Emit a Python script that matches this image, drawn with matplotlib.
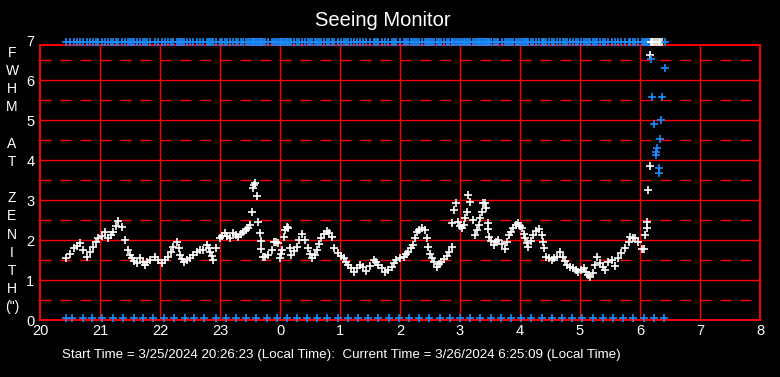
import numpy as np
import matplotlib
matplotlib.use("Agg")
import matplotlib.pyplot as plt

plt.rcParams['font.family'] = ['Liberation Sans', 'DejaVu Sans']
plt.rcParams['lines.scale_dashes'] = False

# seeing FWHM (white), hours after midnight of the start day
seeing_t = np.array([
    20.44, 20.50, 20.56, 20.62, 20.67, 20.72, 20.78, 20.83, 20.89, 20.93, 20.97, 21.03,
    21.08, 21.14, 21.18, 21.22, 21.27, 21.30, 21.36, 21.42, 21.46, 21.50, 21.53, 21.57,
    21.61, 21.67, 21.71, 21.75, 21.79, 21.83, 21.92, 21.97, 22.03, 22.08, 22.14, 22.18,
    22.22, 22.28, 22.31, 22.33, 22.37, 22.40, 22.45, 22.50, 22.55, 22.61, 22.67, 22.72,
    22.78, 22.81, 22.83, 22.86, 22.89, 22.94, 23.00, 23.04, 23.08, 23.12, 23.17, 23.22,
    23.26, 23.30, 23.35, 23.39, 23.43, 23.47, 23.50, 23.53, 23.55, 23.56, 23.58, 23.62,
    23.64, 23.66, 23.68, 23.69, 23.71, 23.75, 23.80, 23.86, 23.90, 23.94, 23.97, 24.00,
    24.02, 24.04, 24.06, 24.08, 24.12, 24.14, 24.16, 24.19, 24.23, 24.28, 24.32, 24.36,
    24.42, 24.47, 24.50, 24.54, 24.58, 24.61, 24.65, 24.69, 24.74, 24.78, 24.82, 24.86,
    24.90, 24.97, 25.02, 25.06, 25.10, 25.14, 25.19, 25.24, 25.29, 25.33, 25.38, 25.44,
    25.50, 25.56, 25.60, 25.64, 25.70, 25.75, 25.80, 25.86, 25.90, 25.94, 26.00, 26.06,
    26.10, 26.14, 26.18, 26.22, 26.25, 26.28, 26.32, 26.36, 26.42, 26.45, 26.47, 26.50,
    26.53, 26.57, 26.61, 26.65, 26.69, 26.74, 26.78, 26.82, 26.86, 26.87, 26.90, 26.93,
    26.97, 27.00, 27.03, 27.06, 27.09, 27.11, 27.14, 27.17, 27.21, 27.25, 27.28, 27.31,
    27.34, 27.36, 27.39, 27.42, 27.44, 27.46, 27.47, 27.49, 27.52, 27.56, 27.60, 27.64,
    27.70, 27.75, 27.78, 27.81, 27.85, 27.89, 27.93, 27.96, 28.00, 28.03, 28.06, 28.08,
    28.11, 28.14, 28.18, 28.22, 28.27, 28.31, 28.36, 28.39, 28.40, 28.44, 28.48, 28.53,
    28.57, 28.61, 28.67, 28.72, 28.75, 28.78, 28.83, 28.89, 28.93, 28.97, 29.02, 29.06,
    29.10, 29.14, 29.17, 29.22, 29.25, 29.29, 29.33, 29.38, 29.42, 29.47, 29.53, 29.58,
    29.64, 29.69, 29.75, 29.81, 29.84, 29.88, 29.92, 29.97, 30.03, 30.07, 30.09, 30.11,
    30.12, 30.14, 30.16, 30.17])
seeing_v = np.array([
    1.55, 1.65, 1.80, 1.85, 1.92, 1.75, 1.58, 1.70, 1.83, 1.95, 2.04, 2.10,
    2.21, 2.05, 2.12, 2.21, 2.35, 2.47, 2.33, 2.00, 1.75, 1.62, 1.54, 1.48,
    1.42, 1.54, 1.46, 1.38, 1.44, 1.50, 1.58, 1.50, 1.42, 1.50, 1.58, 1.70,
    1.83, 1.96, 1.80, 1.62, 1.52, 1.46, 1.50, 1.54, 1.62, 1.71, 1.74, 1.75,
    1.88, 1.80, 1.71, 1.60, 1.50, 1.79, 2.04, 2.10, 2.17, 2.10, 2.04, 2.17,
    2.12, 2.08, 2.15, 2.21, 2.25, 2.29, 2.38, 2.69, 3.30, 3.38, 3.42, 3.10,
    2.44, 2.17, 1.97, 1.77, 1.57, 1.58, 1.62, 1.75, 1.96, 1.95, 1.92, 1.54,
    1.65, 1.75, 2.07, 2.25, 2.32, 2.29, 1.79, 1.62, 1.72, 1.83, 2.00, 2.15,
    2.00, 1.79, 1.65, 1.54, 1.62, 1.75, 1.90, 2.04, 2.15, 2.23, 2.18, 2.07,
    1.79, 1.67, 1.60, 1.54, 1.46, 1.38, 1.30, 1.21, 1.30, 1.38, 1.32, 1.23,
    1.35, 1.50, 1.44, 1.38, 1.30, 1.21, 1.26, 1.33, 1.42, 1.50, 1.55, 1.58,
    1.64, 1.71, 1.80, 1.88, 2.05, 2.21, 2.26, 2.29, 2.25, 2.05, 1.83, 1.65,
    1.54, 1.44, 1.33, 1.40, 1.46, 1.53, 1.60, 1.70, 1.83, 2.42, 2.75, 2.92,
    2.46, 2.35, 2.29, 2.38, 2.55, 2.71, 3.12, 2.96, 2.50, 2.12, 2.25, 2.38,
    2.55, 2.71, 2.92, 2.92, 2.79, 2.42, 2.27, 2.07, 1.98, 1.88, 1.95, 2.00,
    1.90, 1.77, 1.95, 2.12, 2.20, 2.29, 2.38, 2.42, 2.35, 2.29, 2.15, 2.04,
    1.92, 1.83, 1.98, 2.12, 2.22, 2.27, 2.12, 1.96, 1.79, 1.58, 1.55, 1.50,
    1.54, 1.58, 1.71, 1.58, 1.47, 1.38, 1.33, 1.29, 1.25, 1.21, 1.25, 1.29,
    1.20, 1.12, 1.07, 1.17, 1.38, 1.57, 1.42, 1.33, 1.25, 1.46, 1.50, 1.35,
    1.54, 1.67, 1.79, 1.96, 2.08, 2.05, 2.04, 1.96, 1.77, 1.77, 2.12, 2.30,
    2.45, 3.25, 3.85, 6.62])

# white points pinned at the top of the scale at the end of the run
seeing_top_t = [30.18, 30.20, 30.22, 30.25, 30.28, 30.31, 30.34, 30.36]

# second (blue) channel: off scale most of the night, then a few readings
blue_top_t = seeing_t[seeing_t < 30.17]
blue_end_t = [30.19, 30.20, 30.24, 30.26, 30.27, 30.29, 30.31, 30.32, 30.34, 30.35, 30.37, 30.41]
blue_end_v = [6.52, 5.57, 4.89, 4.12, 4.20, 4.29, 3.80, 3.67, 4.52, 5.00, 5.57, 6.29]
blue_end_top_t = [30.42]

# blue ticks along the bottom
blue_low_t = [20.43, 20.54, 20.71, 20.87, 21.04, 21.22, 21.39, 21.56, 21.72, 21.89,
              22.07, 22.24, 22.41, 22.57, 22.74, 22.93, 23.10, 23.26, 23.43, 23.60,
              23.78, 23.95, 24.11, 24.28, 24.45, 24.62, 24.79, 24.96, 25.13, 25.30,
              25.47, 25.64, 25.81, 25.98, 26.15, 26.32, 26.49, 26.66, 26.83, 27.00,
              27.17, 27.34, 27.51, 27.68, 27.85, 28.02, 28.19, 28.36, 28.53, 28.70,
              28.87, 29.04, 29.21, 29.38, 29.55, 29.72, 29.89, 30.06, 30.23, 30.40]

hours = list(range(20, 33))
hour_labels = [str(h % 24) for h in hours]
fwhm_ticks = list(range(0, 8))

TOP_CAP = 6.95
LOW_MARK = 0.05
FRAME_TOP = 6.875
RED = '#ff0000'
BLUE = '#1a8cff'

fig = plt.figure(figsize=(7.8, 3.77), dpi=100, facecolor='black')
ax = fig.add_axes([40 / 780, 57 / 377, 720 / 780, 280 / 377])
ax.set_facecolor('black')
ax.set_xlim(20, 32)
ax.set_ylim(0, 7)

# grid
for y in range(1, 7):
    ax.axhline(y, color=RED, lw=1.0, zorder=1)
for y in np.arange(0.5, 7, 1.0):
    ax.axhline(y, color=RED, lw=1.0, dashes=(7.9, 6.5), zorder=1)
ax.vlines(hours[1:-1], 0, FRAME_TOP, color=RED, lw=1.0, zorder=1)
ax.hlines(FRAME_TOP, 20, 32, color=RED, lw=1.4, zorder=1)

for side in ['left', 'right', 'bottom']:
    ax.spines[side].set_color(RED)
    ax.spines[side].set_linewidth(1.4)
ax.spines['left'].set_bounds(0, FRAME_TOP)
ax.spines['right'].set_bounds(0, FRAME_TOP)
ax.spines['top'].set_visible(False)

mk = dict(linestyle='none', marker='+', ms=5.5, mew=1.2, clip_on=False, zorder=3)
ax.plot(blue_top_t, np.full(len(blue_top_t), TOP_CAP), color=BLUE, **mk)
ax.plot(blue_low_t, np.full(len(blue_low_t), LOW_MARK), color=BLUE, **mk)
ax.plot(seeing_t, seeing_v, color='white', **mk)
ax.plot(seeing_top_t, np.full(len(seeing_top_t), TOP_CAP), color='white', **mk)
ax.plot(blue_end_t, blue_end_v, color=BLUE, **mk)
ax.plot(blue_end_top_t, np.full(len(blue_end_top_t), TOP_CAP), color=BLUE, **mk)

ax.set_xticks(hours)
ax.set_xticklabels(hour_labels)
ax.set_yticks(fwhm_ticks)
ax.tick_params(axis='both', length=0, colors='white', labelsize=10.5)
ax.tick_params(axis='x', pad=3)
ax.tick_params(axis='y', pad=4)

fig.text(383 / 780, 1 - 20 / 377, 'Seeing Monitor', color='white', fontsize=14.5,
         ha='center', va='center')
fig.text(12 / 780, 1 - 180 / 377, 'F\nW\nH\nM\n\nA\nT\n\nZ\nE\nN\nI\nT\nH\n(")',
         color='white', fontsize=10, ha='center', va='center', linespacing=1.38)
fig.text(62 / 780, 1 - 355 / 377,
         'Start Time = 3/25/2024 20:26:23 (Local Time):  Current Time = 3/26/2024 6:25:09 (Local Time)',
         color='white', fontsize=9.65, ha='left', va='center')

fig.savefig('out.png', dpi=100, facecolor='black')
